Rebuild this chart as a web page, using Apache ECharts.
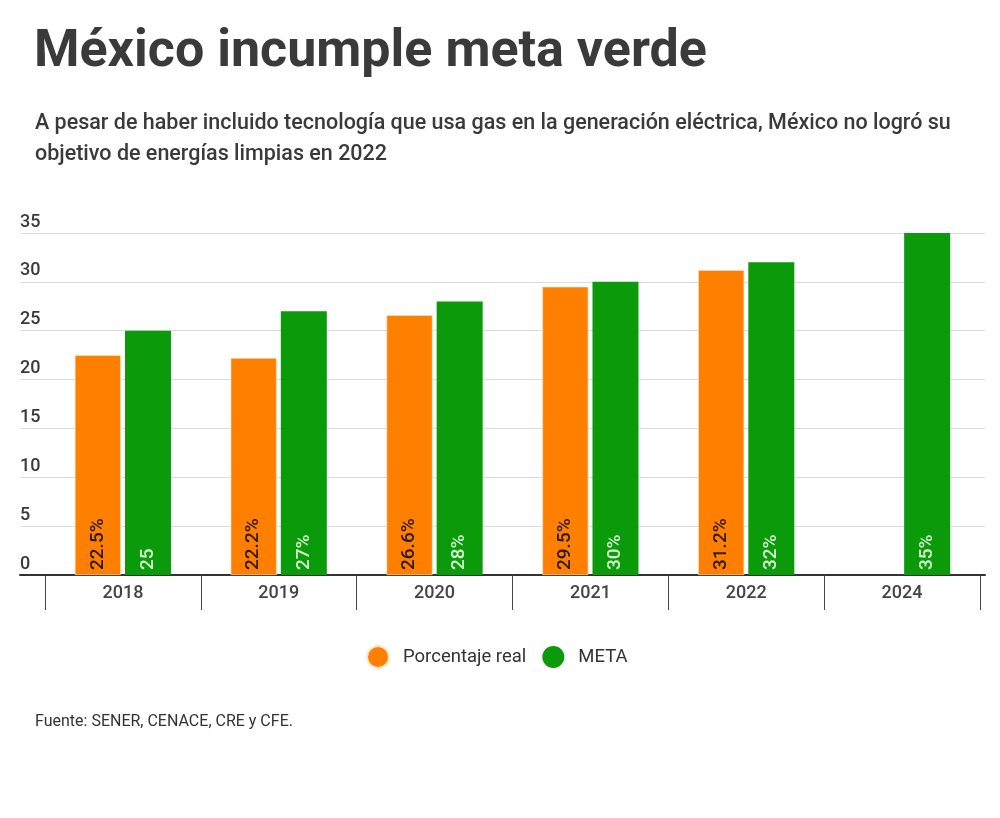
<!DOCTYPE html>
<html>
<head>
<meta charset="utf-8">
<script src="https://cdn.jsdelivr.net/npm/echarts@6/dist/echarts.min.js"></script>
<style>
  html, body { margin: 0; padding: 0; background: #ffffff; }
  #chart { width: 1000px; height: 818px; }
</style>
</head>
<body>
<div id="chart"></div>
<script>
var years = ['2018', '2019', '2020', '2021', '2022', '2024'];
var realValues = [22.5, 22.2, 26.6, 29.5, 31.2, null];
var metaValues = [25, 27, 28, 30, 32, 35];
var realLabels = ['22.5%', '22.2%', '26.6%', '29.5%', '31.2%', ''];
var metaLabels = ['25', '27%', '28%', '30%', '32%', '35%'];
var yTicks = [0, 5, 10, 15, 20, 25, 30, 35];

var chart = echarts.init(document.getElementById('chart'), null, { renderer: 'canvas' });

var font = 'Roboto, "Noto Sans", sans-serif';

var option = {
  backgroundColor: '#ffffff',
  textStyle: { fontFamily: font },
  title: [{
    text: 'México incumple meta verde',
    left: 34, top: 27, padding: 0,
    textStyle: { fontSize: 52, fontWeight: 'bold', color: '#3a3a3a', fontFamily: font }
  }, {
    text: 'A pesar de haber incluido tecnología que usa gas en la generación eléctrica, México no logró su\nobjetivo de energías limpias en 2022',
    left: 35, top: 108, padding: 0,
    textStyle: { fontSize: 21.5, fontWeight: 500, color: '#3a3a3a', lineHeight: 31, fontFamily: font }
  }, {
    text: 'Fuente: SENER, CENACE, CRE y CFE.',
    left: 35, top: 714, padding: 0,
    textStyle: { fontSize: 16, fontWeight: 'normal', color: '#333', fontFamily: font }
  }],
  legend: {
    top: 645,
    left: 366,
    padding: 0,
    icon: 'circle',
    itemWidth: 22,
    itemHeight: 22,
    itemGap: 16,
    textStyle: { fontSize: 18.5, color: '#333', fontFamily: font, padding: [0, 0, 0, 9] },
    data: ['Porcentaje real', 'META']
  },
  grid: [
    { left: 20, right: 15, top: 233, bottom: 243 },
    { left: 45, right: 20, top: 233, bottom: 243 }
  ],
  xAxis: [{
    gridIndex: 0,
    type: 'category',
    data: years,
    axisLine: { show: true, lineStyle: { color: '#333', width: 2 } },
    axisTick: { show: false },
    axisLabel: { show: false },
    splitLine: { show: false }
  }, {
    gridIndex: 1,
    type: 'category',
    data: years,
    axisLine: { show: false },
    axisTick: { show: true, length: 35, lineStyle: { color: '#444', width: 1 } },
    axisLabel: { show: true, fontSize: 18, fontWeight: 500, color: '#444', margin: 9, fontFamily: font }
  }],
  yAxis: [{
    gridIndex: 0,
    type: 'value',
    min: 0, max: 35, interval: 5,
    axisLine: { show: false },
    axisTick: { show: false },
    axisLabel: {
      inside: true, margin: 0, fontSize: 18, fontWeight: 500, color: '#3a3a3a',
      verticalAlign: 'bottom', padding: [0, 0, 2, 0], fontFamily: font,
      formatter: function (v) { return yTicks.indexOf(v) >= 0 ? String(v) : ''; }
    },
    splitLine: { show: true, lineStyle: { color: '#dcdcdc', width: 1 } }
  }, {
    gridIndex: 1,
    type: 'value',
    min: 0, max: 35, interval: 5,
    show: false
  }],
  series: [{
    name: 'Porcentaje real',
    type: 'bar',
    xAxisIndex: 1, yAxisIndex: 1,
    data: realValues,
    barWidth: 46,
    barGap: '9%',
    itemStyle: { color: '#ff7f00', borderColor: '#ffe9c8', borderWidth: 0.6 },
    label: {
      show: true,
      position: 'insideBottom',
      distance: 5,
      rotate: 90,
      align: 'left',
      verticalAlign: 'middle',
      fontSize: 19,
      fontWeight: 500,
      color: '#2e1800',
      fontFamily: font,
      formatter: function (p) { return realLabels[p.dataIndex]; }
    }
  }, {
    name: 'META',
    type: 'bar',
    xAxisIndex: 1, yAxisIndex: 1,
    data: metaValues,
    barWidth: 46,
    barGap: '9%',
    itemStyle: { color: '#0a9a0a' },
    label: {
      show: true,
      position: 'insideBottom',
      distance: 5,
      rotate: 90,
      align: 'left',
      verticalAlign: 'middle',
      fontSize: 19,
      fontWeight: 500,
      color: '#d6f7cf',
      fontFamily: font,
      formatter: function (p) { return metaLabels[p.dataIndex]; }
    }
  }]
};

chart.setOption(option);
</script>
</body>
</html>
